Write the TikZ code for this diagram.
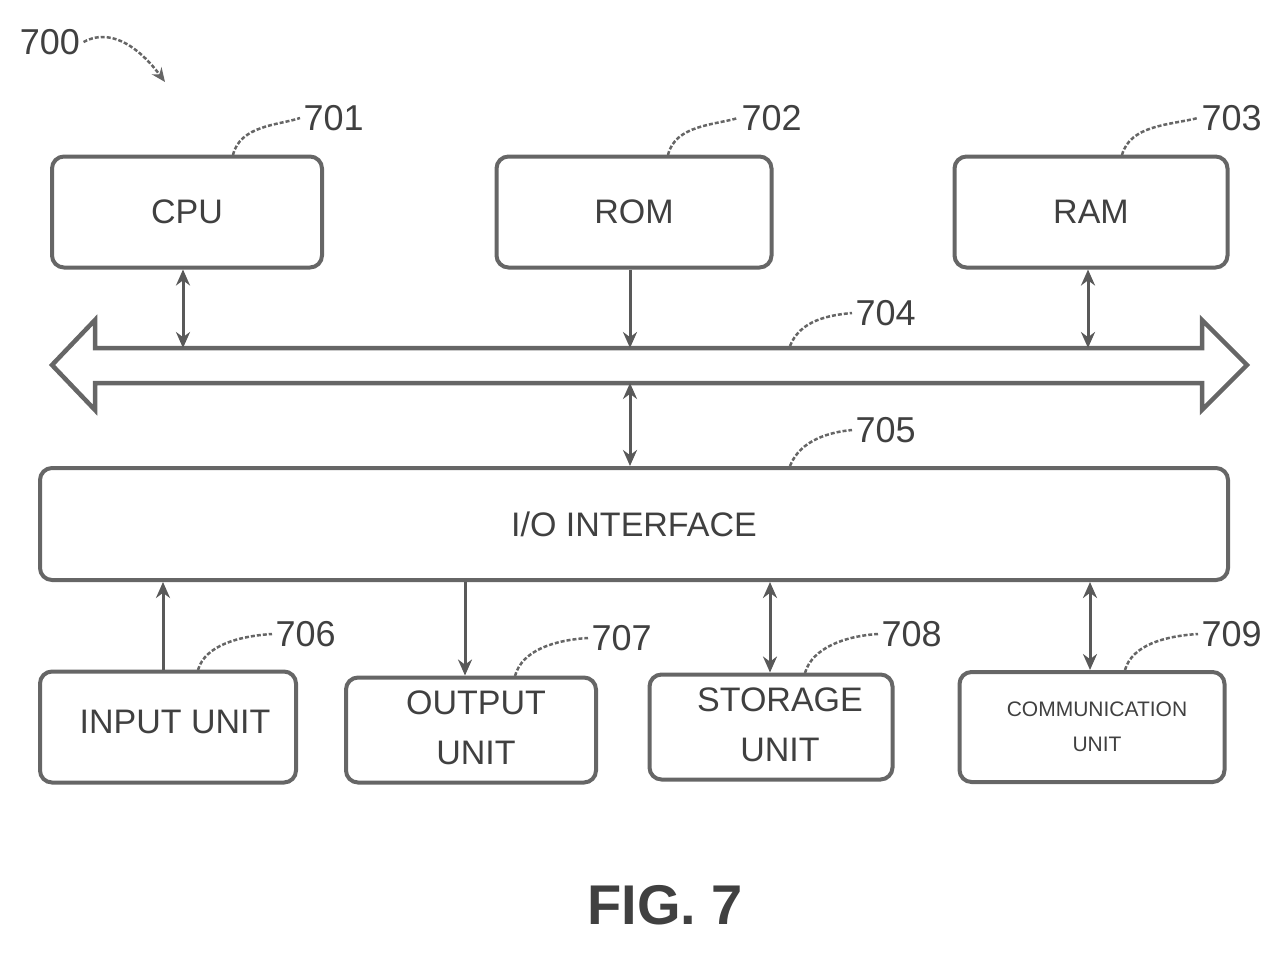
\documentclass[tikz,border=0pt]{standalone}
\usepackage{fontspec}
\setmainfont{Liberation Sans}
\usetikzlibrary{arrows.meta}
\begin{document}
\begin{tikzpicture}[x=1pt,y=-1pt,
  box/.style={draw=black!60,line width=4pt,rounded corners=12pt,inner sep=0},
  lbl/.style={font=\fontsize{34}{36}\selectfont,text=black!75},
  ref/.style={font=\fontsize{36}{38}\selectfont,text=black!75,anchor=west},
  lead/.style={draw=black!60,line width=2.5pt,dash pattern=on 4pt off 2pt},
  conn/.style={draw=black!65,line width=3pt},
  dbl/.style={conn,{Stealth[length=16pt,width=14pt]}-{Stealth[length=16pt,width=14pt]}},
  sgl/.style={conn,-{Stealth[length=16pt,width=14pt]}}]
\useasboundingbox (0,0) rectangle (1284,953);
% boxes
\node[box,minimum width=270pt,minimum height=111pt] (cpu) at (187,212) {};
\node[lbl] at (cpu) {CPU};
\node[box,minimum width=275pt,minimum height=111pt] (rom) at (634,212) {};
\node[lbl] at (rom) {ROM};
\node[box,minimum width=273pt,minimum height=111pt] (ram) at (1091,212) {};
\node[lbl] at (ram) {RAM};
\node[box,minimum width=1188pt,minimum height=112pt] (io) at (634,524) {};
\node[lbl] at (io) {I/O INTERFACE};
\node[box,minimum width=256pt,minimum height=111pt] (in) at (168,727) {};
\node[lbl] at (175,722) {INPUT UNIT};
\node[box,minimum width=250pt,minimum height=105pt] (out) at (471,730) {};
\node[lbl,align=center] at (476,728) {OUTPUT\\[14pt]UNIT};
\node[box,minimum width=243pt,minimum height=105pt] (sto) at (771,727) {};
\node[lbl,align=center] at (780,725) {STORAGE\\[14pt]UNIT};
\node[box,minimum width=265pt,minimum height=110pt] (com) at (1092,727) {};
\node[align=center,font=\fontsize{21}{23}\selectfont,text=black!75] at (1097,727) {COMMUNICATION\\[12pt]UNIT};
% bus
\draw[draw=black!60,line width=4.5pt,line join=miter] (52,365) -- (95,320) -- (95,348) -- (1202,348) -- (1202,320) -- (1247,365) -- (1202,410) -- (1202,383) -- (95,383) -- (95,410) -- cycle;
\coordinate (bt1) at (183,348); \coordinate (bt2) at (630,348); \coordinate (bt3) at (1088,348);
\coordinate (bb) at (630,383);
\draw[dbl] (cpu.south -| bt1) -- (bt1);
\draw[sgl] (rom.south -| bt2) -- (bt2);
\draw[dbl] (ram.south -| bt3) -- (bt3);
\draw[dbl] (bb) -- (io.north -| bb);
\draw[sgl] (in.north -| 163,0) -- (io.south -| 163,0);
\draw[sgl] (io.south -| 465,0) -- (out.north -| 465,0);
\draw[dbl] (io.south -| 770,0) -- (sto.north -| 770,0);
\draw[dbl] (io.south -| 1090,0) -- (com.north -| 1090,0);
% reference labels
\node[lbl,font=\fontsize{36}{38}\selectfont] (r700) at (50,42) {700};
\draw[lead,-{Stealth[length=14pt,width=12pt]}] (r700.east) .. controls (115,25) and (145,55) .. (165,82);
\node[ref] (r701) at (300,118) {701};
\draw[lead] (233,155) .. controls (240,125) and (280,125) .. (r701.west);
\node[ref] (r702) at (738,118) {702};
\draw[lead] (668,155) .. controls (675,125) and (715,125) .. (r702.west);
\node[ref] (r703) at (1198,118) {703};
\draw[lead] (1122,155) .. controls (1130,125) and (1170,125) .. (r703.west);
\node[ref] (r704) at (852,313) {704};
\draw[lead] (790,346) .. controls (800,320) and (830,315) .. (r704.west);
\node[ref] (r705) at (852,430) {705};
\draw[lead] (790,466) .. controls (800,440) and (830,432) .. (r705.west);
\node[ref] (r706) at (272,634) {706};
\draw[lead] (198,670) .. controls (205,645) and (240,636) .. (r706.west);
\node[ref] (r707) at (588,638) {707};
\draw[lead] (515,676) .. controls (522,650) and (555,640) .. (r707.west);
\node[ref] (r708) at (878,634) {708};
\draw[lead] (805,673) .. controls (812,648) and (845,636) .. (r708.west);
\node[ref] (r709) at (1198,634) {709};
\draw[lead] (1125,670) .. controls (1132,645) and (1165,636) .. (r709.west);
\node[font=\fontsize{56}{60}\selectfont\bfseries,text=black!75] (fig) at (665,905) {FIG. 7};
\end{tikzpicture}
\end{document}
